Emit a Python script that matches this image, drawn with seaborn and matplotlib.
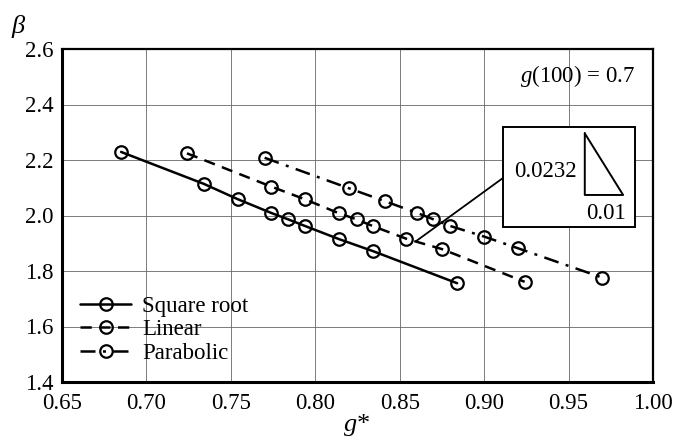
import matplotlib
matplotlib.use("Agg")
import matplotlib.pyplot as plt
import matplotlib.patches as mpatches
import seaborn as sns
import numpy as np
import pandas as pd

# ---- data ----
sqrt_g = [0.685, 0.734, 0.754, 0.774, 0.784, 0.794, 0.814, 0.834, 0.884]
sqrt_b = [2.229, 2.114, 2.059, 2.009, 1.986, 1.962, 1.915, 1.872, 1.756]

lin_g = [0.724, 0.774, 0.794, 0.814, 0.8245, 0.834, 0.854, 0.875, 0.924]
lin_b = [2.224, 2.104, 2.058, 2.008, 1.986, 1.962, 1.916, 1.879, 1.761]

par_g = [0.770, 0.820, 0.841, 0.860, 0.870, 0.880, 0.900, 0.920, 0.970]
par_b = [2.208, 2.098, 2.052, 2.010, 1.986, 1.962, 1.924, 1.882, 1.776]

series_names = ["Square root", "Linear", "Parabolic"]
x_ticks = [0.65, 0.70, 0.75, 0.80, 0.85, 0.90, 0.95, 1.00]
y_ticks = [1.4, 1.6, 1.8, 2.0, 2.2, 2.4, 2.6]

sns.set_theme(style="white")
plt.rcParams["font.family"] = ["Liberation Serif", "DejaVu Serif"]
plt.rcParams["mathtext.fontset"] = "custom"
plt.rcParams["mathtext.rm"] = "Liberation Serif"
plt.rcParams["mathtext.it"] = "Liberation Serif:italic"
plt.rcParams["text.color"] = "black"
plt.rcParams["xtick.color"] = "black"
plt.rcParams["ytick.color"] = "black"
plt.rcParams["axes.labelcolor"] = "black"

FS = 16.5

fig = plt.figure(figsize=(6.78, 4.38), dpi=100)
ax = fig.add_axes([62 / 678, 1 - 382 / 438, (653 - 62) / 678, (382 - 49) / 438])

styles = [
    (sqrt_g, sqrt_b, series_names[0], "-"),
    (lin_g, lin_b, series_names[1], (0, (4.5, 3))),
    (par_g, par_b, series_names[2], (0, (6, 3, 1.2, 3))),
]
for gx, by, name, ls in styles:
    df = pd.DataFrame({"g": gx, "b": by})
    sns.lineplot(data=df, x="g", y="b", ax=ax, color="black", linestyle=ls,
                 linewidth=1.8, marker="o", markersize=9, markerfacecolor="none",
                 markeredgecolor="black", markeredgewidth=1.6, sort=False,
                 estimator=None, label=name, zorder=3)

ax.set_xlim(0.65, 1.00)
ax.set_ylim(1.4, 2.6)
ax.set_xticks(x_ticks)
ax.set_yticks(y_ticks)
ax.set_xticklabels([f"{v:.2f}" for v in x_ticks])
ax.set_yticklabels([f"{v:.1f}" for v in y_ticks])
ax.tick_params(axis="both", length=0, labelsize=FS, colors="black")
ax.tick_params(axis="x", pad=8)
ax.tick_params(axis="y", pad=6)
ax.grid(True, color="#666666", linewidth=0.6)
ax.set_xlabel("")
ax.set_ylabel("")
for s in ax.spines.values():
    s.set_color("black")
    s.set_linewidth(1.6)
ax.spines["left"].set_linewidth(2.2)
ax.spines["bottom"].set_linewidth(2.2)

leg = ax.legend(loc="lower left", frameon=False, fontsize=FS,
                handlelength=2.2, handletextpad=0.5, labelspacing=0.1,
                borderaxespad=0.4, bbox_to_anchor=(0.0, 0.0))
for t in leg.get_texts():
    t.set_color("black")

# annotation box
rect = mpatches.Rectangle((0.9109, 1.957), 0.9896 - 0.9109, 2.32 - 1.957,
                          facecolor="white", edgecolor="black", linewidth=1.4,
                          zorder=4)
ax.add_patch(rect)
ax.plot([0.9596, 0.9596, 0.9823, 0.9596], [2.296, 2.074, 2.074, 2.296],
        color="black", linewidth=1.4, zorder=5)
ax.text(0.9547, 2.158, "0.0232", ha="right", va="center", fontsize=FS,
        color="black", zorder=6)
ax.text(0.9838, 2.008, "0.01", ha="right", va="center", fontsize=FS,
        color="black", zorder=6)
ax.plot([0.860, 0.9109], [1.909, 2.134], color="black", linewidth=1.3,
        zorder=4)
ax.text(0.9893, 2.503, r"$g$(100) = 0.7", ha="right", va="center",
        fontsize=FS, color="black", zorder=6)

fig.text(19 / 678, 1 - 27 / 438, r"$\beta$", ha="center", va="center",
         fontsize=19, color="black")
fig.text(357 / 678, 1 - 425 / 438, r"$g$*", ha="center", va="center",
         fontsize=19, color="black")

fig.savefig("out.png", dpi=100)
